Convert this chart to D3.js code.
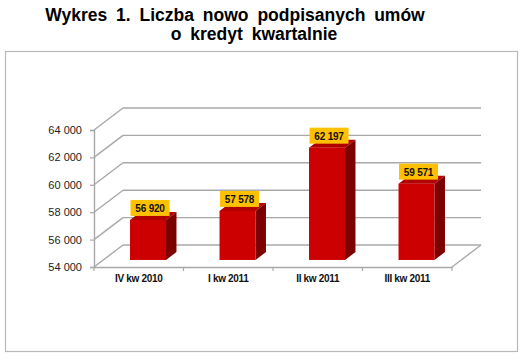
<!DOCTYPE html>
<html><head><meta charset="utf-8">
<script src="https://cdn.jsdelivr.net/npm/d3@7"></script>
<style>body{margin:0;background:#fff}svg{display:block}</style>
</head><body>
<svg id="c" width="523" height="358"></svg>
<script>
const categories = ["IV kw 2010", "I kw 2011", "II kw 2011", "III kw 2011"];
const values = [56920, 57578, 62197, 59571];
const yTicks = [54000, 56000, 58000, 60000, 62000, 64000];
const titleLines = ["Wykres 1. Liczba nowo podpisanych umów", "o kredyt kwartalnie"];

const svg = d3.select("#c");
const loc = d3.formatLocale({decimal: ",", thousands: "\u00a0", grouping: [3], currency: ["", ""]});
const fmt = loc.format(",d");

// title
svg.append("text").attr("x", 235).attr("y", 21).attr("text-anchor", "middle")
  .attr("font-family", "Liberation Sans, Arial, sans-serif").attr("font-weight", "bold")
  .attr("font-size", 17.5).attr("word-spacing", 4).attr("fill", "#000").text(titleLines[0]);
svg.append("text").attr("x", 254).attr("y", 40).attr("text-anchor", "middle")
  .attr("font-family", "Liberation Sans, Arial, sans-serif").attr("font-weight", "bold")
  .attr("font-size", 17.5).attr("word-spacing", 4).attr("fill", "#000").text(titleLines[1]);

// frame
svg.append("rect").attr("x", 5.5).attr("y", 51.5).attr("width", 512).attr("height", 300)
  .attr("fill", "none").attr("stroke", "#b8b8b8").attr("stroke-width", 1.2);

const x = d3.scaleBand().domain(categories).range([94, 452]);
const y = d3.scaleLinear().domain([54000, 64000]).range([267, 130]);
const DX = 29, DY = -22;
const gridColor = "#a8a8a8";

const g = svg.append("g");
// back wall gridlines + side diagonals
yTicks.forEach(t => {
  g.append("line").attr("x1", 94 + DX).attr("y1", y(t) + DY).attr("x2", 452 + DX).attr("y2", y(t) + DY)
    .attr("stroke", gridColor).attr("stroke-width", 1.4);
  g.append("line").attr("x1", 94).attr("y1", y(t)).attr("x2", 94 + DX).attr("y2", y(t) + DY)
    .attr("stroke", gridColor).attr("stroke-width", 1.4);
});
// floor right edge
g.append("line").attr("x1", 452).attr("y1", y(54000)).attr("x2", 452 + DX).attr("y2", y(54000) + DY)
  .attr("stroke", gridColor).attr("stroke-width", 1.4);

// front axes
const yAxis = d3.axisLeft(y).tickValues(yTicks).tickSize(4).tickPadding(8).tickFormat(fmt);
const ya = svg.append("g").attr("transform", "translate(94,0)").call(yAxis);
ya.select(".domain").attr("stroke", gridColor).attr("stroke-width", 1.4);
ya.selectAll(".tick line").attr("stroke", gridColor).attr("stroke-width", 1.2);
ya.selectAll("text").attr("font-family", "Liberation Sans, Arial, sans-serif").attr("font-size", 11).attr("fill", "#222");

const xAxis = d3.axisBottom(x).tickSize(0).tickPadding(8);
const xa = svg.append("g").attr("transform", `translate(0,${y(54000)})`).call(xAxis);
xa.select(".domain").attr("stroke", gridColor).attr("stroke-width", 1.4);
xa.selectAll("text").attr("font-family", "Liberation Sans, Arial, sans-serif").attr("font-weight", "bold")
  .attr("font-size", 10).attr("letter-spacing", -0.3).attr("fill", "#111");
// category boundary ticks
const bounds = categories.map(c => x(c)).concat([452]);
bounds.forEach(b => {
  xa.append("line").attr("x1", b).attr("x2", b).attr("y1", 0).attr("y2", 4)
    .attr("stroke", gridColor).attr("stroke-width", 1.2);
});

// bars
const f0 = 0.32, fd = 0.36;
const bw = 36;
const bars = svg.append("g");
categories.forEach((c, i) => {
  const v = values[i];
  const x0 = x(c) + (x.bandwidth() - bw) / 2 + f0 * DX;
  const x1 = x0 + bw;
  const yt = y(v) + f0 * DY;
  const yb = y(54000) + f0 * DY;
  const ox = fd * DX, oy = fd * DY;
  // side
  bars.append("path").attr("d", `M${x1},${yt}L${x1 + ox},${yt + oy}L${x1 + ox},${yb + oy}L${x1},${yb}Z`)
    .attr("fill", "#7d0000");
  // top
  bars.append("path").attr("d", `M${x0},${yt}L${x0 + ox},${yt + oy}L${x1 + ox},${yt + oy}L${x1},${yt}Z`)
    .attr("fill", "#b00000");
  // front
  bars.append("rect").attr("x", x0).attr("y", yt).attr("width", bw).attr("height", yb - yt)
    .attr("fill", "#cc0000");
  // label
  const cx = x0 + bw / 2 + 2;
  const lw = 39, lh = 16;
  const ly = yt - 4 - lh;
  bars.append("rect").attr("x", cx - lw / 2).attr("y", ly).attr("width", lw).attr("height", lh)
    .attr("fill", "#ffc000");
  bars.append("text").attr("x", cx).attr("y", ly + 12).attr("text-anchor", "middle")
    .attr("font-family", "Liberation Sans, Arial, sans-serif").attr("font-weight", "bold")
    .attr("font-size", 10).attr("letter-spacing", -0.2).attr("fill", "#111").text(fmt(v));
});
</script>
</body></html>
